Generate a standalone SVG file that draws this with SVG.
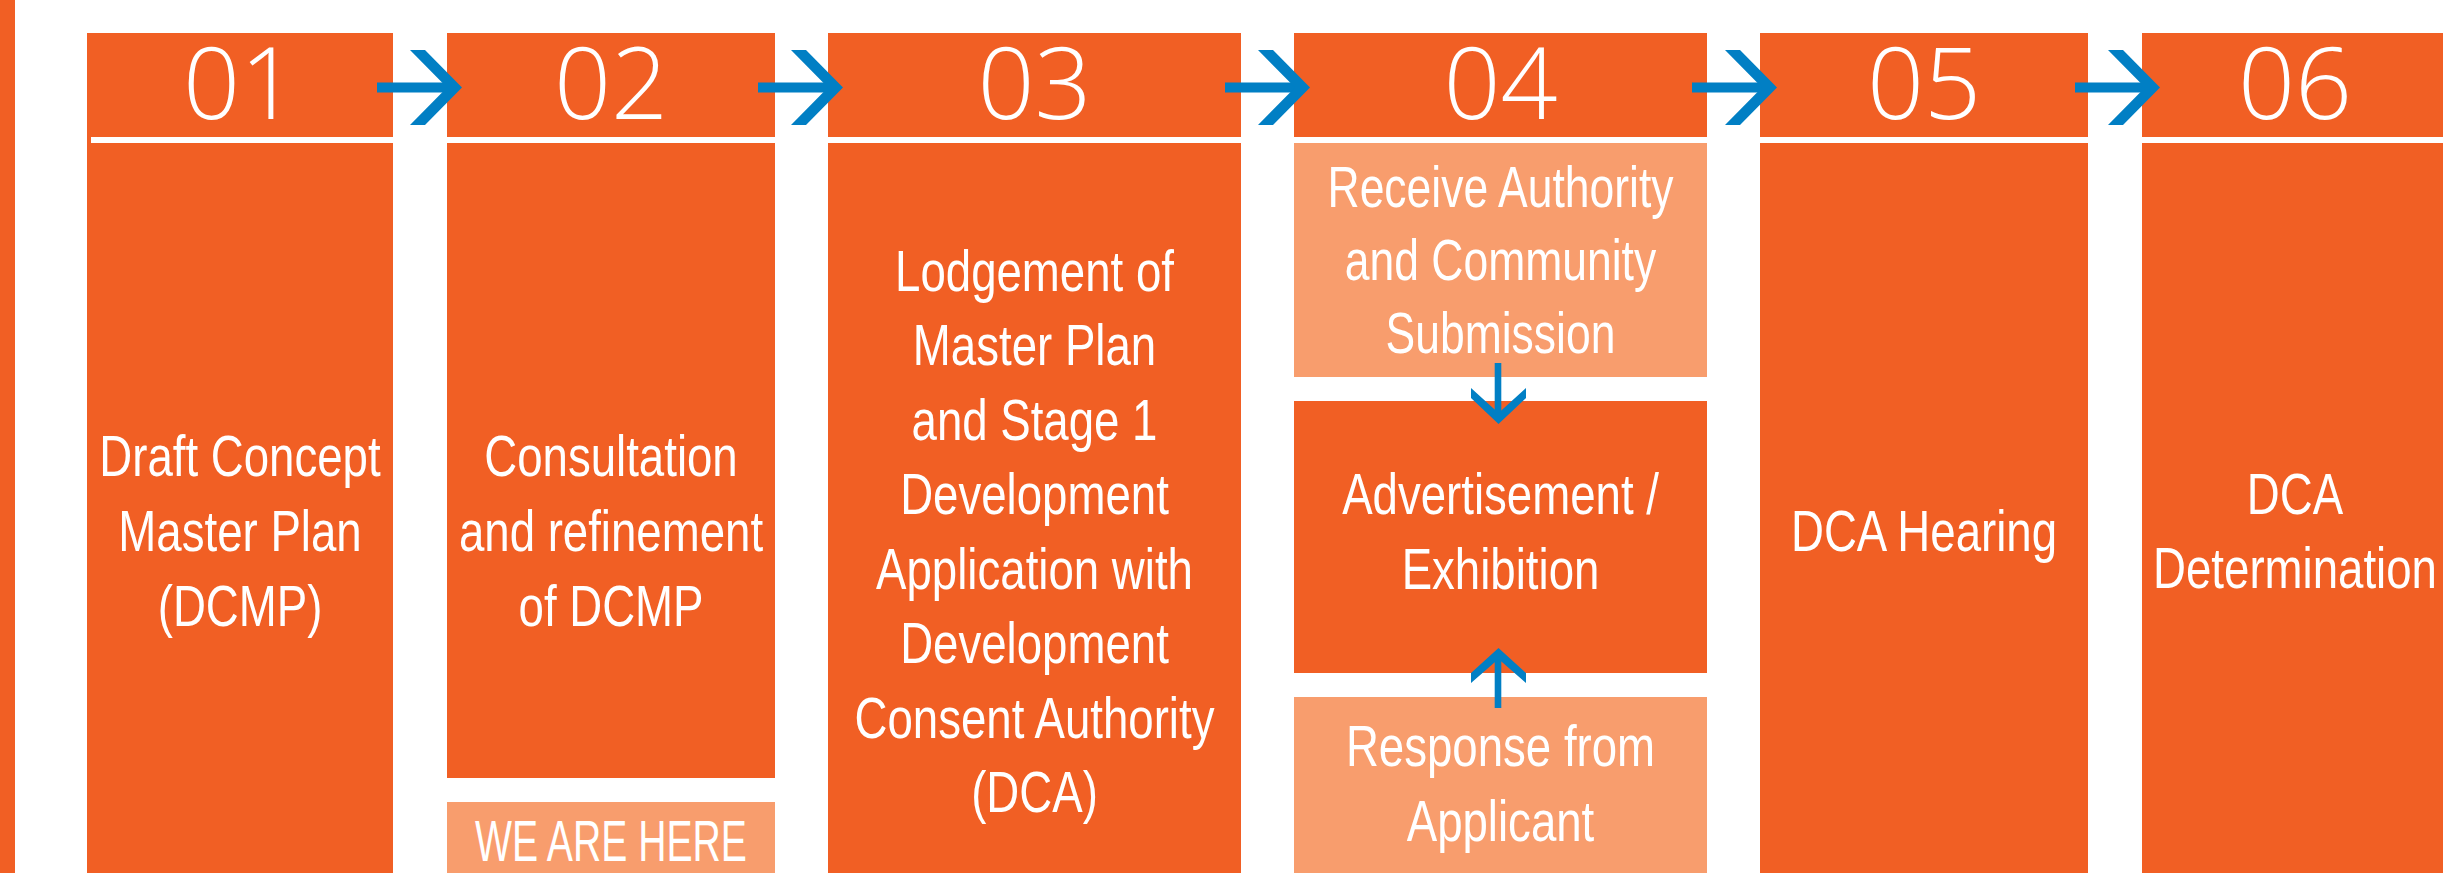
<svg xmlns="http://www.w3.org/2000/svg" width="2443" height="873" viewBox="0 0 2443 873">
<style>
.dark{fill:#F15F24}
.light{fill:#F89D6D}
.num{font-family:"Open Sans","Liberation Sans",sans-serif;font-weight:300;font-size:100px;fill:#fff;text-anchor:middle}
.lbl{font-family:"Liberation Sans",Arial,sans-serif;font-size:57px;fill:#fff;text-anchor:middle}
.arr{fill:#017FC4}
</style>
<defs>
<g id="harrow">
<rect x="-85" y="-5" width="75" height="10"/>
<polygon points="-52,-37.5 -37,-37.5 0,0 -37,37.5 -52,37.5 -15,0"/>
</g>
</defs>
<rect x="0" y="0" width="2443" height="873" fill="#fff"/>
<rect class="dark" x="0" y="0" width="15" height="873"/>

<g id="step01">
<rect class="dark" x="87" y="33" width="306" height="104"/>
<rect class="dark" x="87" y="137" width="4" height="6"/>
<rect class="dark" x="87" y="143" width="306" height="730"/>
<text class="num" x="240" y="119">01</text>
<g transform="translate(240 0) scale(0.8 1)">
<text class="lbl" x="0" y="476">Draft Concept</text>
<text class="lbl" x="0" y="551">Master Plan</text>
<text class="lbl" x="0" y="626">(DCMP)</text>
</g>
</g>

<g id="step02">
<rect class="dark" x="447" y="33" width="328" height="104"/>
<rect class="dark" x="447" y="143" width="328" height="635"/>
<text class="num" x="611" y="119">02</text>
<g transform="translate(611 0) scale(0.8 1)">
<text class="lbl" x="0" y="476">Consultation</text>
<text class="lbl" x="0" y="551">and refinement</text>
<text class="lbl" x="0" y="626">of DCMP</text>
</g>
</g>

<g id="we-are-here">
<rect class="light" x="447" y="802" width="328" height="71"/>
<text class="lbl" x="611" y="861" font-size="54" textLength="272" lengthAdjust="spacingAndGlyphs">WE ARE HERE</text>
</g>

<g id="step03">
<rect class="dark" x="828" y="33" width="413" height="104"/>
<rect class="dark" x="828" y="143" width="413" height="730"/>
<text class="num" x="1034.5" y="119">03</text>
<g transform="translate(1034.5 0) scale(0.8 1)">
<text class="lbl" x="0" y="291">Lodgement of</text>
<text class="lbl" x="0" y="365">Master Plan</text>
<text class="lbl" x="0" y="440">and Stage 1</text>
<text class="lbl" x="0" y="514">Development</text>
<text class="lbl" x="0" y="589">Application with</text>
<text class="lbl" x="0" y="663">Development</text>
<text class="lbl" x="0" y="738">Consent Authority</text>
<text class="lbl" x="0" y="812">(DCA)</text>
</g>
</g>

<g id="step04">
<rect class="dark" x="1294" y="33" width="413" height="104"/>
<text class="num" x="1500.5" y="119">04</text>
</g>

<g id="step04-submission">
<rect class="light" x="1294" y="143" width="413" height="234"/>
<g transform="translate(1500.5 0) scale(0.78 1)">
<text class="lbl" x="0" y="207">Receive Authority</text>
<text class="lbl" x="0" y="280">and Community</text>
<text class="lbl" x="0" y="353">Submission</text>
</g>
</g>

<g id="step04-exhibition">
<rect class="dark" x="1294" y="401" width="413" height="272"/>
<g transform="translate(1500.5 0) scale(0.8 1)">
<text class="lbl" x="0" y="514">Advertisement /</text>
<text class="lbl" x="0" y="589">Exhibition</text>
</g>
</g>

<g id="step04-response">
<rect class="light" x="1294" y="697" width="413" height="176"/>
<g transform="translate(1500.5 0) scale(0.8 1)">
<text class="lbl" x="0" y="766">Response from</text>
<text class="lbl" x="0" y="841">Applicant</text>
</g>
</g>

<g id="step05">
<rect class="dark" x="1760" y="33" width="328" height="104"/>
<rect class="dark" x="1760" y="143" width="328" height="730"/>
<text class="num" x="1924" y="119">05</text>
<g transform="translate(1924 0) scale(0.8 1)">
<text class="lbl" x="0" y="551">DCA Hearing</text>
</g>
</g>

<g id="step06">
<rect class="dark" x="2142" y="33" width="301" height="104"/>
<rect class="dark" x="2142" y="143" width="301" height="730"/>
<text class="num" x="2295" y="119">06</text>
<g transform="translate(2295 0) scale(0.8 1)">
<text class="lbl" x="0" y="514">DCA</text>
<text class="lbl" x="0" y="588">Determination</text>
</g>
</g>

<g id="connectors" class="arr">
<use href="#harrow" transform="translate(462 87.5)"/>
<use href="#harrow" transform="translate(843 87.5)"/>
<use href="#harrow" transform="translate(1310 87.5)"/>
<use href="#harrow" transform="translate(1777 87.5)"/>
<use href="#harrow" transform="translate(2160 87.5)"/>
<rect x="1494.7" y="363" width="6.6" height="52"/>
<polygon points="1471,388 1498.5,413 1526,388 1526,398 1498.5,424 1471,398"/>
<rect x="1494.7" y="656" width="6.6" height="52"/>
<polygon points="1498.5,648 1526,673 1526,683 1498.5,659 1471,683 1471,673"/>
</g>
</svg>
